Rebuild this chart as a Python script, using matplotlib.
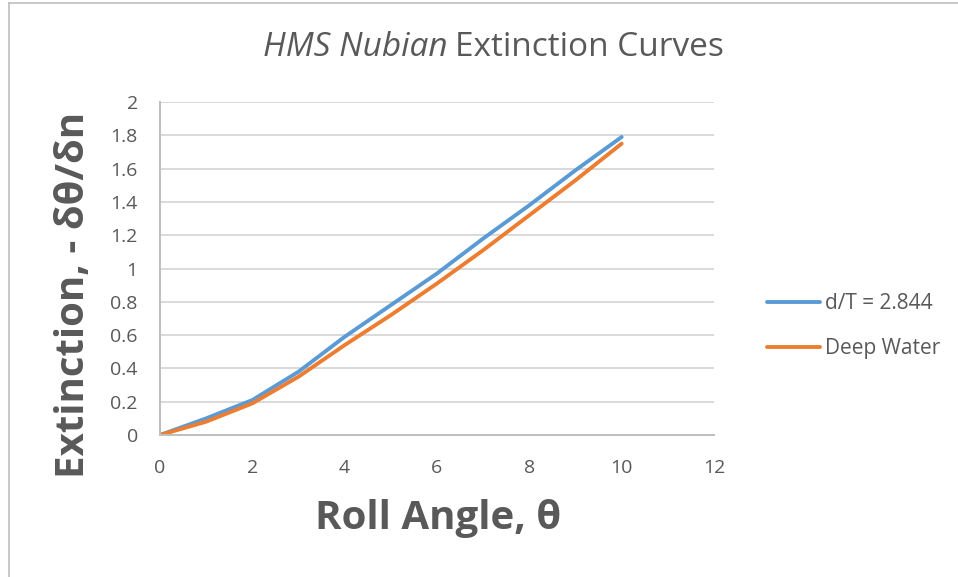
import matplotlib
matplotlib.use("Agg")
import matplotlib.pyplot as plt
from matplotlib.lines import Line2D

# roll angle (deg) and extinction values
roll_angle = [0, 1, 2, 3, 4, 5, 6, 7, 8, 9, 10]
shallow = [0, 0.10, 0.21, 0.38, 0.59, 0.78, 0.97, 1.18, 1.38, 1.59, 1.79]
deep = [0, 0.08, 0.19, 0.35, 0.54, 0.72, 0.91, 1.11, 1.32, 1.53, 1.75]
series_names = ["d/T = 2.844", "Deep Water"]
x_ticks = [0, 2, 4, 6, 8, 10, 12]
y_ticks = [0, 0.2, 0.4, 0.6, 0.8, 1, 1.2, 1.4, 1.6, 1.8, 2]

plt.rcParams["font.family"] = ["Open Sans", "DejaVu Sans"]

TXT = "#595959"
BLUE = "#5B9BD5"
ORANGE = "#ED7D31"

fig = plt.figure(figsize=(9.58, 5.77), dpi=100)
ax = fig.add_axes([160 / 958, 1 - 435 / 577, 554 / 958, 333 / 577])

ax.plot(roll_angle, shallow, color=BLUE, lw=2.8, label=series_names[0], solid_capstyle="round")
ax.plot(roll_angle, deep, color=ORANGE, lw=2.8, label=series_names[1], solid_capstyle="round")

ax.set_xlim(0, 12)
ax.set_ylim(0, 2)
ax.set_xticks(x_ticks)
ax.set_xticklabels([str(t) for t in x_ticks])
ax.set_yticks(y_ticks)
ax.set_yticklabels([("%g" % t) for t in y_ticks])
ax.tick_params(length=0, labelsize=14, colors=TXT)
ax.tick_params(axis="x", pad=17)
ax.tick_params(axis="y", pad=16)
ax.grid(axis="y", color="#d9d9d9", lw=1.4)
ax.set_axisbelow(True)
for s in ["top", "right"]:
    ax.spines[s].set_visible(False)
for s in ["left", "bottom"]:
    ax.spines[s].set_color("#bfbfbf")
    ax.spines[s].set_linewidth(1.4)

# axis titles placed like the Excel chart (y title sits lower than axis centre)
fig.text(438 / 958, 1 - 518 / 577, "Roll Angle, θ", fontsize=29, fontweight="bold",
         color=TXT, ha="center", va="center")
fig.text(74 / 958, 1 - 295 / 577, "Extinction, - δθ/δn", fontsize=29, fontweight="bold",
         color=TXT, ha="center", va="center", rotation=90)

fig.text(448 / 958, 1 - 48 / 577, "HMS Nubian", fontsize=24, style="italic", color=TXT,
         ha="right", va="center")
fig.text(455 / 958, 1 - 48 / 577, "Extinction Curves", fontsize=24, color=TXT,
         ha="left", va="center")

leg = fig.legend(loc="center left", bbox_to_anchor=(767 / 958, 1 - 326 / 577), frameon=False,
                 borderaxespad=0, borderpad=0,
                 handlelength=2.55, handletextpad=0.25, labelspacing=1.15,
                 prop={"family": "Open Sans", "size": 15})
for t in leg.get_texts():
    t.set_color(TXT)

# thin chart-area border (top and left edges only visible in the crop)
fig.add_artist(Line2D([9 / 958, 9 / 958], [0, 1 - 3 / 577], transform=fig.transFigure,
                      color="#bfbfbf", lw=1.2))
fig.add_artist(Line2D([9 / 958, 1], [1 - 3 / 577, 1 - 3 / 577], transform=fig.transFigure,
                      color="#bfbfbf", lw=1.2))

fig.savefig("out.png", dpi=100)
